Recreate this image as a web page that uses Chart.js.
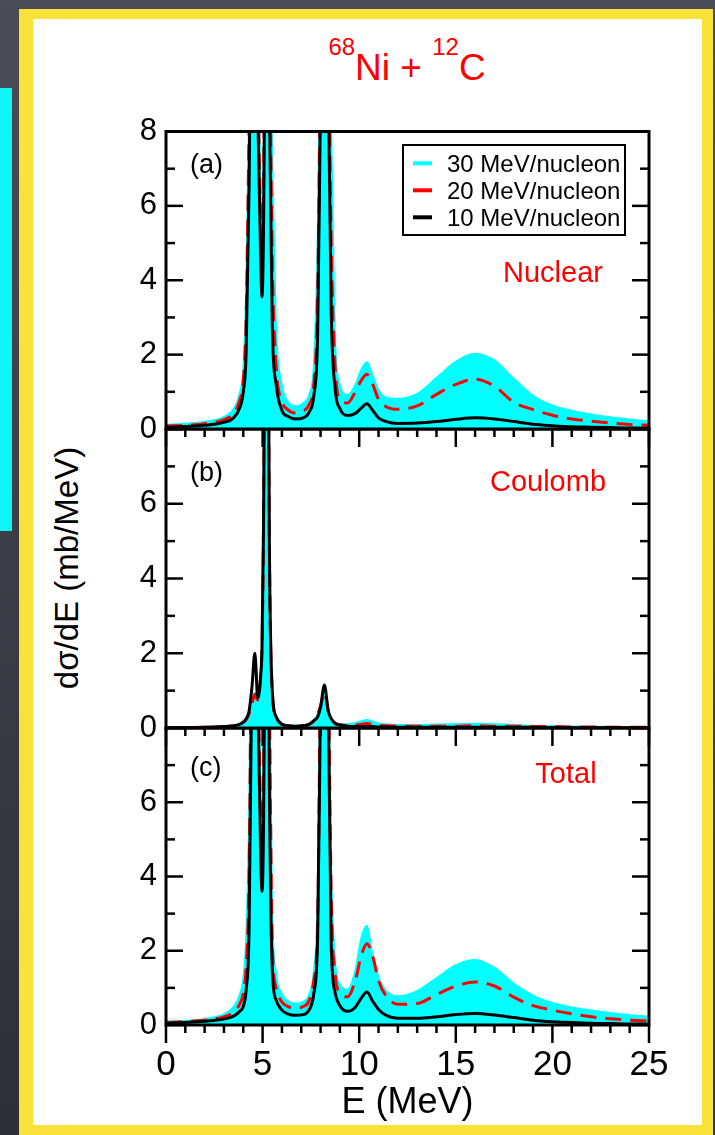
<!DOCTYPE html>
<html>
<head>
<meta charset="utf-8">
<script src="https://cdn.jsdelivr.net/npm/chart.js@4/dist/chart.umd.min.js"></script>
<style>
  html, body { margin: 0; padding: 0; }
  body {
    width: 715px; height: 1135px; overflow: hidden; position: relative;
    background: linear-gradient(180deg, #4a4d55 0%, #3c3f47 45%, #2d3037 100%);
    font-family: "Liberation Sans", Arial, sans-serif;
  }
  #strip { position: absolute; left: 0; top: 88px; width: 12px; height: 443px; background: #10f4f4; }
  #frame { position: absolute; left: 19px; top: 9px; width: 694px; height: 1140px; background: #fbe23a; }
  #sheet { position: absolute; left: 33px; top: 19px; width: 669px; height: 1106px; background: #ffffff; }
  canvas { position: absolute; left: 0; }
  #title {
    position: absolute; left: 207px; width: 400px; top: 49px;
    text-align: center; color: #ff0000; font-size: 37px; line-height: 37px; white-space: nowrap;
  }
  #title .iso { font-size: 24px; position: relative; top: -25px; }
  #ytitle {
    position: absolute; left: 67px; top: 568px; white-space: nowrap;
    font-size: 33px; color: #000;
    transform: translate(-50%, -50%) rotate(-90deg);
  }
</style>
</head>
<body>
<div id="strip"></div>
<div id="frame"></div>
<div id="sheet"></div>
<div id="title"><span class="iso">68</span>Ni + <span class="iso">12</span>C</div>
<div id="ytitle">dσ/dE (mb/MeV)</div>
<canvas id="panelC" width="715" height="435" style="top:700px;z-index:1"></canvas>
<canvas id="panelB" width="715" height="360" style="top:400px;z-index:2"></canvas>
<canvas id="panelA" width="715" height="360" style="top:100px;z-index:3"></canvas>
<script>
// Excitation energy grid (MeV), denser around the resonances
const energy = [0, 1, 2, 3, 3.5, 3.8, 4.0, 4.15, 4.3, 4.45, 4.6, 4.75, 4.9, 4.97, 5.05, 5.2, 5.35, 5.5, 5.7, 6.0,
  6.3, 6.7, 7.1, 7.4, 7.65, 7.85, 8.0, 8.2, 8.4, 8.55, 8.75, 9.0, 9.4, 9.8, 10.1, 10.4, 10.7, 11.0, 11.4, 12,
  13, 14, 15, 16, 17, 18, 19, 20, 21, 22, 23, 24, 25];

// dσ/dE (mb/MeV) — nuclear excitation
const nuclear30 = [0.12, 0.15, 0.2, 0.33, 0.55, 0.95, 1.7, 4.0, 9.0, 15, 15, 11, 6.5, 5.5, 7.5, 17, 14, 7.5, 2.8, 1.2,
  0.75, 0.62, 0.7, 0.92, 1.8, 5.5, 12, 19, 13, 8.5, 2.6, 1.2, 0.92, 1.2, 1.6, 1.8, 1.45, 1.05, 0.85, 0.82,
  0.95, 1.38, 1.82, 2.03, 1.85, 1.36, 0.9, 0.64, 0.5, 0.4, 0.32, 0.26, 0.21];
const nuclear20 = [0.08, 0.10, 0.14, 0.25, 0.42, 0.75, 1.3, 3.0, 8.2, 14, 14, 9.5, 5.5, 4.6, 6.5, 16, 11, 4.5, 1.7, 0.75,
  0.52, 0.43, 0.48, 0.65, 1.2, 3.6, 10, 18, 11, 5, 1.7, 0.8, 0.7, 1.0, 1.3, 1.47, 1.2, 0.8, 0.6, 0.53,
  0.62, 0.93, 1.2, 1.34, 1.15, 0.72, 0.52, 0.37, 0.27, 0.21, 0.16, 0.12, 0.1];
const nuclear10 = [0.05, 0.07, 0.10, 0.18, 0.30, 0.55, 1.0, 2.1, 6.5, 14, 14, 8.5, 4.6, 3.55, 5.5, 16, 9, 2.8, 1.2, 0.5,
  0.34, 0.27, 0.30, 0.45, 0.9, 2.6, 9, 18, 9.5, 3.2, 1.1, 0.55, 0.36, 0.42, 0.56, 0.68, 0.5, 0.3, 0.2, 0.15,
  0.16, 0.2, 0.26, 0.3, 0.27, 0.2, 0.13, 0.09, 0.06, 0.05, 0.04, 0.03, 0.03];

// dσ/dE (mb/MeV) — Coulomb excitation
const coulomb30 = [0.0, 0.01, 0.02, 0.04, 0.07, 0.11, 0.16, 0.24, 0.4, 0.7, 0.95, 0.8, 1.5, 2.3, 5.8, 20, 5.5, 1.1, 0.35, 0.13,
  0.08, 0.07, 0.08, 0.11, 0.2, 0.38, 0.65, 1.0, 0.5, 0.28, 0.16, 0.11, 0.11, 0.14, 0.19, 0.22, 0.18, 0.13, 0.1, 0.09,
  0.09, 0.1, 0.11, 0.12, 0.11, 0.09, 0.07, 0.06, 0.05, 0.04, 0.04, 0.03, 0.03];
const coulomb20 = [0.0, 0.01, 0.02, 0.04, 0.06, 0.1, 0.15, 0.22, 0.38, 0.65, 0.9, 0.75, 1.4, 2.2, 5.5, 20, 5.0, 1.0, 0.3, 0.1,
  0.06, 0.05, 0.06, 0.09, 0.18, 0.35, 0.6, 0.95, 0.45, 0.25, 0.13, 0.08, 0.07, 0.08, 0.1, 0.12, 0.1, 0.07, 0.06, 0.05,
  0.05, 0.05, 0.05, 0.06, 0.05, 0.05, 0.04, 0.04, 0.03, 0.03, 0.02, 0.02, 0.02];
const coulomb10 = [0.0, 0.01, 0.02, 0.04, 0.06, 0.1, 0.16, 0.25, 0.45, 1.1, 2.0, 0.8, 1.4, 2.2, 5.5, 20, 5.0, 1.0, 0.3, 0.1,
  0.06, 0.05, 0.06, 0.1, 0.2, 0.3, 0.55, 1.15, 0.45, 0.25, 0.12, 0.08, 0.05, 0.04, 0.04, 0.04, 0.04, 0.03, 0.03, 0.02,
  0.02, 0.02, 0.02, 0.02, 0.02, 0.02, 0.02, 0.01, 0.01, 0.01, 0.01, 0.01, 0.01];

// dσ/dE (mb/MeV) — total
const total30 = [0.1, 0.12, 0.17, 0.3, 0.5, 0.8, 1.3, 2.5, 6, 14, 15, 11, 6.5, 5.0, 7.5, 18, 11, 3.2, 1.4, 0.85,
  0.65, 0.58, 0.63, 0.82, 1.5, 3.6, 11, 19, 11, 4.5, 1.8, 1.1, 0.96, 1.5, 2.35, 2.68, 1.9, 1.3, 0.92, 0.78,
  0.92, 1.27, 1.62, 1.76, 1.55, 1.12, 0.8, 0.6, 0.48, 0.4, 0.33, 0.27, 0.23];
const total20 = [0.07, 0.09, 0.13, 0.22, 0.35, 0.55, 0.85, 1.6, 4.0, 12, 14, 10, 5.5, 4.5, 6.5, 18, 9, 2.2, 1.0, 0.62,
  0.5, 0.45, 0.5, 0.65, 1.2, 2.8, 10, 18, 10, 3.5, 1.4, 0.88, 0.76, 1.2, 1.85, 2.19, 1.85, 1.2, 0.78, 0.56,
  0.58, 0.82, 1.05, 1.16, 1.05, 0.75, 0.52, 0.4, 0.3, 0.22, 0.17, 0.13, 0.11];
const total10 = [0.05, 0.07, 0.1, 0.16, 0.24, 0.36, 0.5, 0.95, 2.6, 10, 14, 9, 4.6, 3.6, 5.5, 18, 6.5, 1.5, 0.67, 0.4,
  0.3, 0.26, 0.28, 0.4, 0.85, 2.4, 9, 18, 9, 2.2, 0.88, 0.52, 0.37, 0.48, 0.72, 0.89, 0.64, 0.42, 0.26, 0.18,
  0.18, 0.22, 0.28, 0.31, 0.27, 0.2, 0.13, 0.09, 0.07, 0.05, 0.04, 0.03, 0.03];

const beamLabels = ['30 MeV/nucleon', '20 MeV/nucleon', '10 MeV/nucleon'];
const panelTags = ['(a)', '(b)', '(c)'];
const panelNames = ['Nuclear', 'Coulomb', 'Total'];
const energyRange = [0, 25];
const crossRange = [0, 8];
const xMajorStep = 5, xMinorStep = 1;
const yMajorStep = 2, yMinorStep = 1;

Chart.defaults.font.family = '"Liberation Sans", Arial, sans-serif';
Chart.defaults.color = '#000';

// Line styles for the three beam energies (30, 20, 10 MeV/nucleon)
const beamStyles = [
  { borderColor: '#00ffff', backgroundColor: '#00ffff', fill: 'origin', borderWidth: 1.5, order: 3 },
  { borderColor: '#ff0000', backgroundColor: '#ff0000', fill: false, borderWidth: 3, borderDash: [16, 9], order: 2 },
  { borderColor: '#000000', backgroundColor: '#000000', fill: false, borderWidth: 3, order: 1 }
];

// Frame, inward/outward tick marks, panel captions and legend
const panelDecor = {
  id: 'panelDecor',
  afterDatasetsDraw(chart, args, o) {
    const { ctx, chartArea: a } = chart;
    const xs = chart.scales.x, ys = chart.scales.y;
    const seg = (x1, y1, x2, y2) => { ctx.beginPath(); ctx.moveTo(x1, y1); ctx.lineTo(x2, y2); ctx.stroke(); };
    ctx.save();
    ctx.strokeStyle = '#000';
    ctx.lineWidth = 2.5;
    for (let v = crossRange[0]; v <= crossRange[1]; v += yMinorStep) {
      const py = ys.getPixelForValue(v);
      const len = v % yMajorStep === 0 ? 17 : 9;
      seg(a.left, py, a.left + len, py);
      seg(a.right, py, a.right - len, py);
    }
    for (let e = energyRange[0]; e <= energyRange[1]; e += xMinorStep) {
      const px = xs.getPixelForValue(e);
      const len = e % xMajorStep === 0 ? 18 : 8;
      seg(px, a.bottom, px, a.bottom + len);
    }
    ctx.lineWidth = 3;
    ctx.strokeRect(a.left, a.top, a.right - a.left, a.bottom - a.top);

    ctx.fillStyle = '#000';
    ctx.font = '27px "Liberation Sans", Arial, sans-serif';
    ctx.textAlign = 'left';
    ctx.textBaseline = 'alphabetic';
    ctx.fillText(o.tag, a.left + 24, a.top + o.tagDy);

    ctx.fillStyle = '#ff0000';
    ctx.font = '29px "Liberation Sans", Arial, sans-serif';
    ctx.textAlign = 'center';
    ctx.fillText(o.name, o.nameX, a.top + o.nameDy);

    if (o.legend) {
      const bx = a.left + 237, by = a.top + 13.5, bw = 222, bh = 90;
      ctx.lineWidth = 2;
      ctx.strokeStyle = '#000';
      ctx.strokeRect(bx, by, bw, bh);
      ctx.font = '24px "Liberation Sans", Arial, sans-serif';
      ctx.textAlign = 'left';
      chart.data.datasets.forEach((ds, i) => {
        const cy = by + 18.3 + i * 27;
        ctx.strokeStyle = ds.borderColor;
        ctx.lineWidth = 4;
        ctx.setLineDash([]);
        seg(bx + 10, cy, bx + 29, cy);
        ctx.fillStyle = '#000';
        ctx.fillText(ds.label, bx + 44, cy + 8.6);
      });
    }
    ctx.restore();
  }
};

function makePanel(id, series, cfg) {
  const datasets = series.map((vals, i) => Object.assign({
    label: beamLabels[i],
    data: energy.map((e, k) => ({ x: e, y: vals[k] })),
    pointRadius: 0,
    cubicInterpolationMode: 'monotone'
  }, beamStyles[i]));

  return new Chart(document.getElementById(id), {
    type: 'line',
    data: { datasets },
    plugins: [panelDecor],
    options: {
      responsive: false,
      animation: false,
      devicePixelRatio: 1,
      events: [],
      layout: { padding: { left: 0, right: 66, top: cfg.padTop, bottom: cfg.padBottom }, autoPadding: false },
      plugins: {
        legend: { display: false },
        tooltip: { enabled: false },
        panelDecor: cfg.decor
      },
      scales: {
        x: {
          type: 'linear', min: energyRange[0], max: energyRange[1],
          display: cfg.bottomAxis,
          grid: { display: false, drawTicks: false },
          border: { display: false },
          ticks: { stepSize: xMajorStep, padding: 19, font: { size: 35 }, color: '#000', maxRotation: 0 },
          title: { display: cfg.bottomAxis, text: 'E (MeV)', font: { size: 36 }, color: '#000', padding: { top: 0, bottom: 10 } },
          afterFit: s => { if (cfg.bottomAxis) s.height = 110; }
        },
        y: {
          min: crossRange[0], max: crossRange[1],
          grid: { display: false, drawTicks: false },
          border: { display: false },
          ticks: {
            stepSize: yMajorStep, padding: 9, font: { size: 31 }, color: '#000',
            callback: v => (!cfg.showTop && v === crossRange[1]) ? '' : String(v)
          },
          afterFit: s => { s.width = 166; }
        }
      }
    }
  });
}

makePanel('panelA', [nuclear30, nuclear20, nuclear10], {
  padTop: 31.5, padBottom: 31, bottomAxis: false, showTop: true,
  decor: { tag: panelTags[0], tagDy: 41, name: panelNames[0], nameX: 553, nameDy: 150, legend: true }
});
makePanel('panelB', [coulomb30, coulomb20, coulomb10], {
  padTop: 29, padBottom: 32, bottomAxis: false, showTop: false,
  decor: { tag: panelTags[1], tagDy: 52, name: panelNames[1], nameX: 548, nameDy: 62, legend: false }
});
makePanel('panelC', [total30, total20, total10], {
  padTop: 28, padBottom: 0, bottomAxis: true, showTop: false,
  decor: { tag: panelTags[2], tagDy: 48, name: panelNames[2], nameX: 566, nameDy: 55, legend: false }
});
</script>
</body>
</html>
